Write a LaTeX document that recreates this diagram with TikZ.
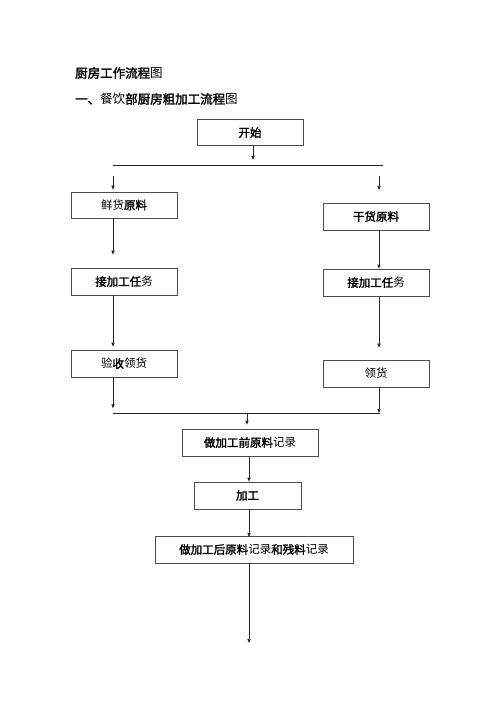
\documentclass[tikz,border=0pt]{standalone}
\usepackage{fontspec}
\setmainfont{Noto Sans CJK SC}[AutoFakeBold=2]
\usetikzlibrary{arrows.meta}
\tikzset{
  box/.style={draw=black!70, line width=0.7pt, minimum height=26pt, inner sep=0pt, font=\fontsize{11.5}{12}\selectfont},
  arr/.style={draw=black!85, line width=0.7pt, -{Triangle[length=4pt,width=3.2pt]}},
  ln/.style={draw=black!85, line width=0.7pt},
  ttl/.style={anchor=west, inner sep=0pt, font=\fontsize{12.5}{13}\selectfont}
}
\begin{document}
\begin{tikzpicture}[x=1pt,y=-1pt]
\useasboundingbox[fill=white] (0,0) rectangle (500,708);
\node[ttl] (t1) at (75,73) {\textbf{厨房工作流程}图};
\node[ttl] (t2) at (75,99) {\textbf{一、}餐饮\textbf{部厨房粗加工流程}图};
\node[box, minimum width=106pt] (start) at (250,132.5) {\textbf{开始}};
\node[box, minimum width=106pt] (fresh) at (124,205) {鲜货\textbf{原料}};
\node[box, minimum width=106pt, minimum height=27pt] (dry) at (376,216.5) {\textbf{干货原料}};
\node[box, minimum width=106pt, minimum height=27pt] (taskL) at (124,281.5) {\textbf{接加工任}务};
\node[box, minimum width=106pt, minimum height=27pt] (taskR) at (376,282.5) {\textbf{接加工任}务};
\node[box, minimum width=106pt, minimum height=27pt] (checkL) at (124,363.5) {验\textbf{收}领货};
\node[box, minimum width=106pt, minimum height=27pt] (getR) at (376,373.5) {领货};
\node[box, minimum width=136pt, minimum height=27pt] (pre) at (250,442.5) {\textbf{做加工前原料}记录};
\node[box, minimum width=107pt, minimum height=27pt] (proc) at (247.5,495.5) {\textbf{加工}};
\node[box, minimum width=198pt, minimum height=27pt] (post) at (254,549.5) {\textbf{做加工后原料}记录\textbf{和残料}记录};
% top split line
\coordinate (tl) at (113,165);
\coordinate (tr) at (383,165);
\coordinate (tlL) at (113,176);
\coordinate (trR) at (379,176);
\draw[arr] ([xshift=3pt]start.south) -- ++(0,14);
\draw[ln] (tl) -- (tr);
\draw[arr] (tlL) -- ([xshift=-11pt,yshift=2pt]fresh.north);
\draw[arr] (trR) -- ++(0,14);
% left column
\draw[arr] ([xshift=-11pt]fresh.south) -- ([xshift=-11pt,yshift=13pt]taskL.north);
\draw[arr] ([xshift=-11pt]taskL.south) -- ([xshift=-11pt,yshift=3pt]checkL.north);
% right column
\draw[arr] ([xshift=3pt]dry.south) -- ([xshift=3pt]taskR.north);
\draw[arr] ([xshift=3pt]taskR.south) -- ([xshift=3pt,yshift=12pt]getR.north);
% bottom join line
\coordinate (bl) at (113,413);
\coordinate (br) at (380,413);
\draw[arr] ([xshift=-11pt]checkL.south) -- ++(0,31);
\draw[ln] (bl) -- (br);
\draw[arr] ([xshift=3pt]getR.south) -- (379,413);
\coordinate (bm) at (247,413);
\draw[arr] (bm) -- ([xshift=-3pt,yshift=4pt]pre.north);
\draw[arr] ([xshift=-1pt]pre.south) -- ([xshift=1.5pt]proc.north);
\draw[arr] ([xshift=1.5pt]proc.south) -- (249,537);
\draw[arr] ([xshift=-5pt]post.south) -- (249,643);
\end{tikzpicture}
\end{document}
